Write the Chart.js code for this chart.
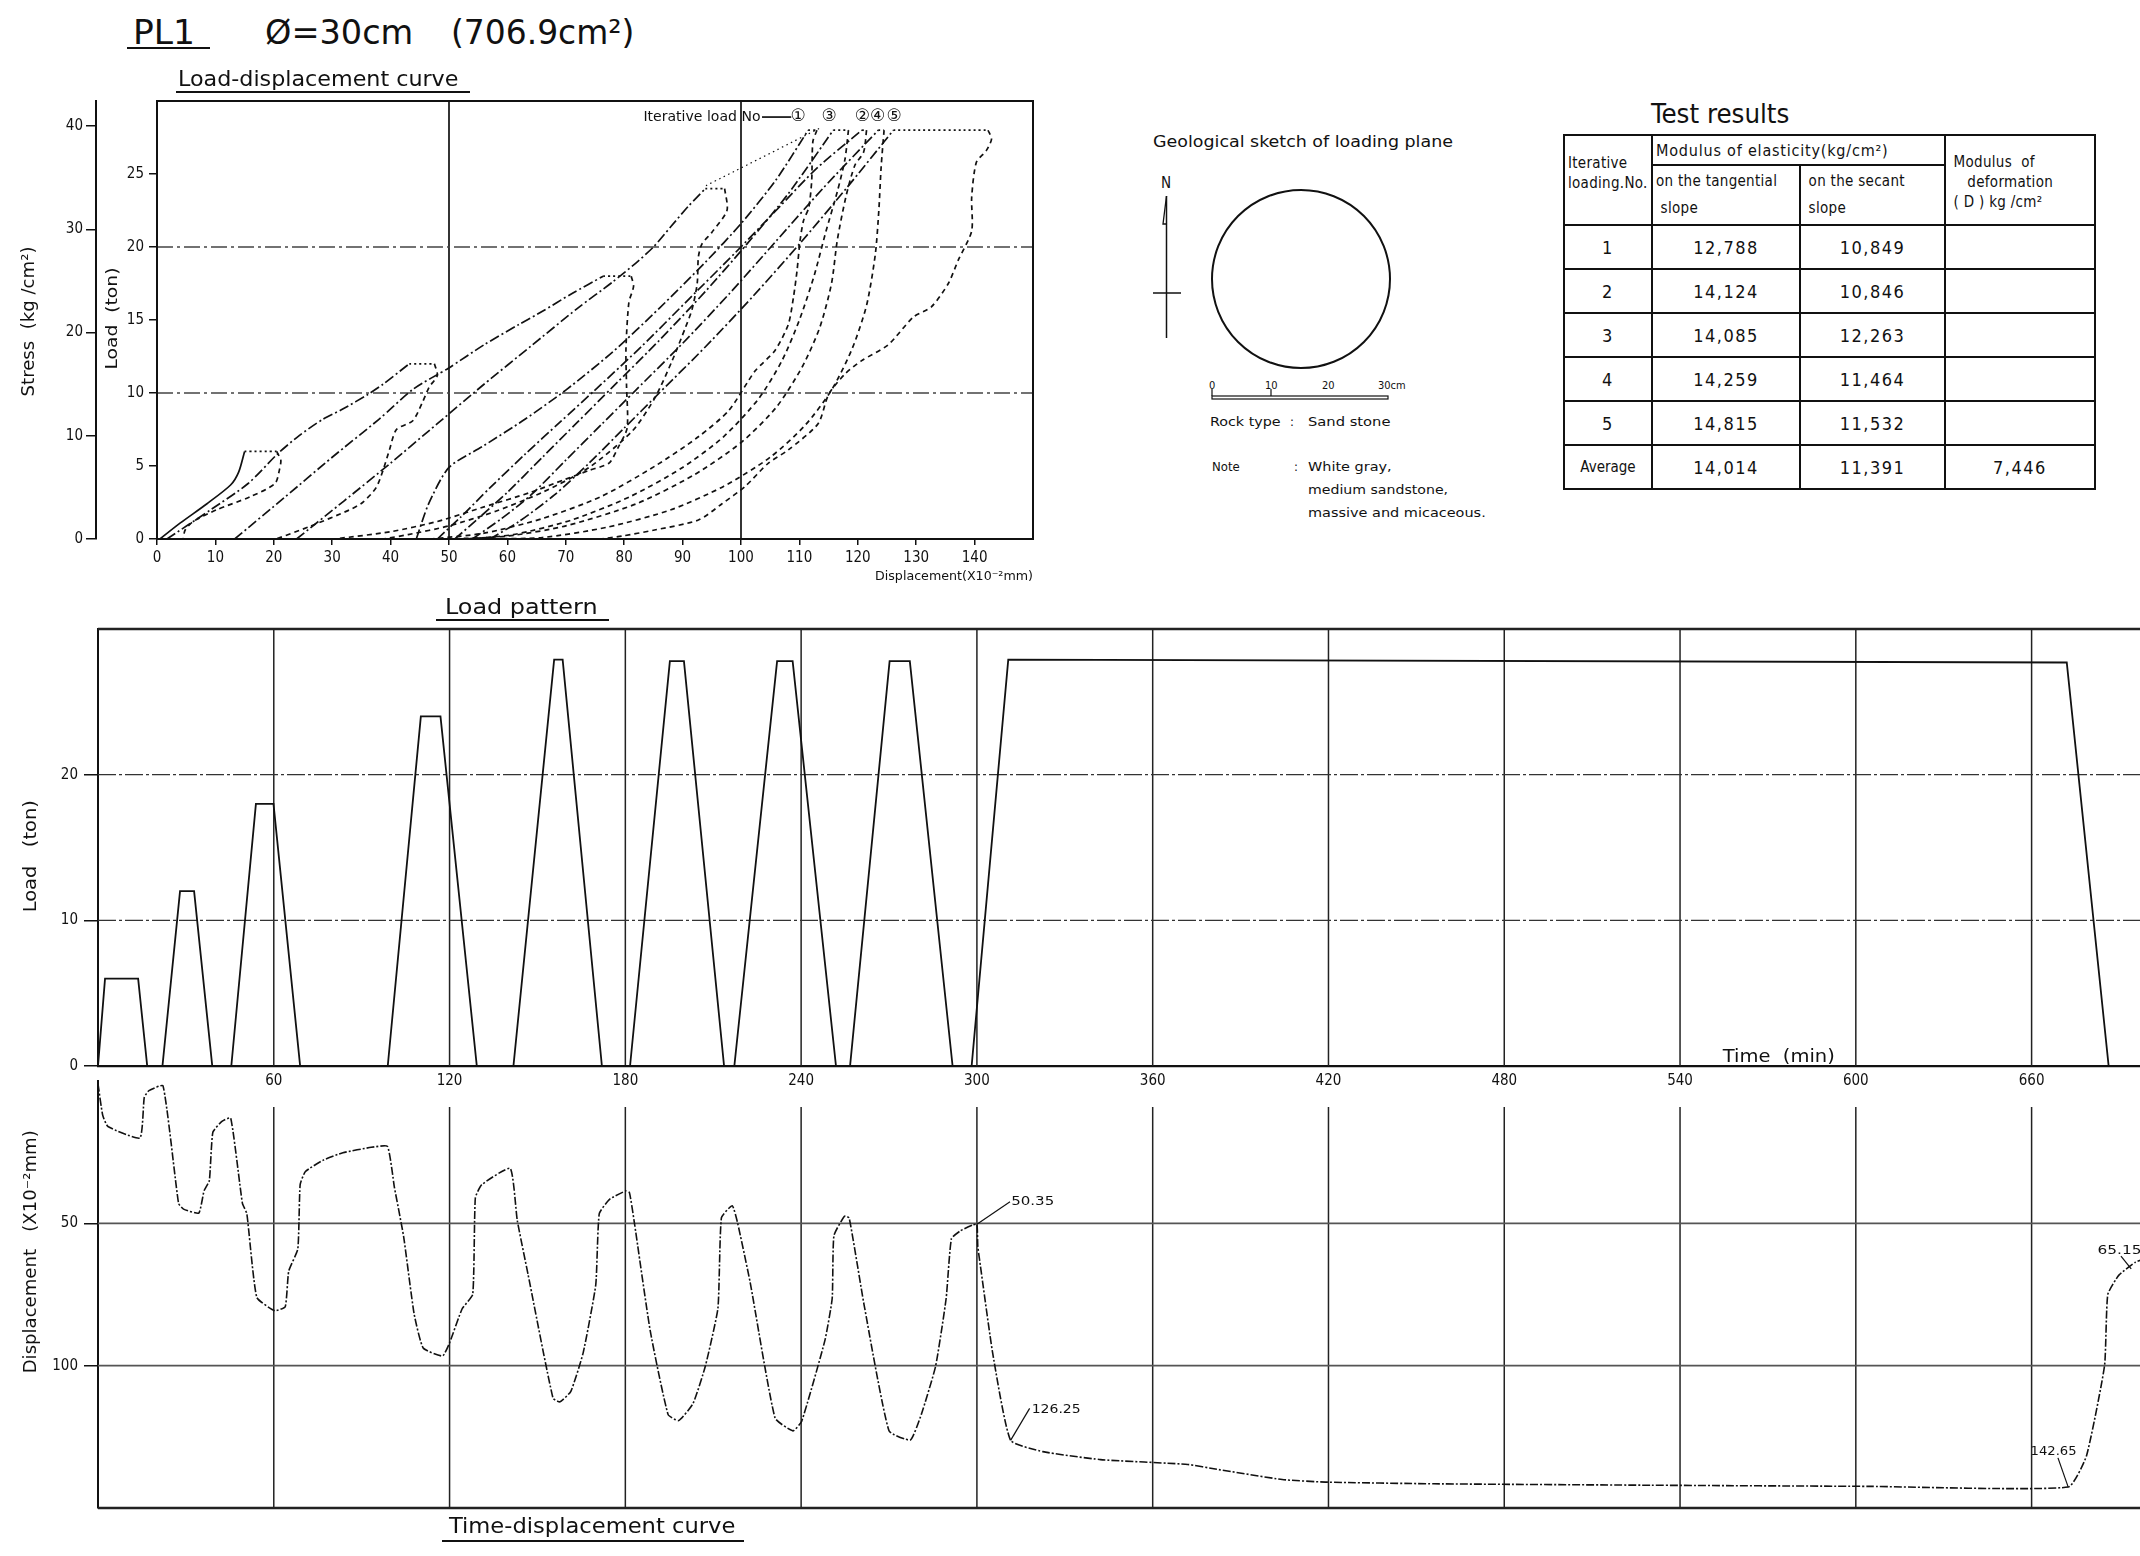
<!DOCTYPE html>
<html>
<head>
<meta charset="utf-8">
<script src="https://cdn.jsdelivr.net/npm/chart.js@4.4.1/dist/chart.umd.min.js"></script>
<style>
  body { margin: 0; width: 2140px; height: 1556px; overflow: hidden; background: #fff; position: relative;
         font-family: "Liberation Sans Narrow", "DejaVu Sans Condensed", "Liberation Sans", sans-serif; color: #111; }
  canvas { position: absolute; }
  .lbl { position: absolute; white-space: nowrap; line-height: 1; transform-origin: 0 50%; }
  #tbl { position: absolute; left: 1563px; top: 134px; border-collapse: collapse; table-layout: fixed; }
  #tbl td { border: 2px solid #111; padding: 0; font-size: 18px; letter-spacing: 1.5px; text-align: center; }
  #tbl td.h { font-size: 15px; letter-spacing: 0.3px; text-align: left; vertical-align: top; padding: 0 3px; }
</style>
</head>
<body>

<svg width="2140" height="1556" style="position:absolute;left:0;top:0">
  <g stroke="#111" fill="none" stroke-width="2">
    <line x1="127" y1="48" x2="210" y2="48"/>
    <line x1="176" y1="92" x2="470" y2="92"/>
    <line x1="436" y1="620" x2="609" y2="620"/>
    <line x1="442" y1="1541" x2="744" y2="1541"/>
    <circle cx="1301" cy="279" r="89"/>
    <line x1="1166.5" y1="196" x2="1166.5" y2="338" stroke-width="1.5"/>
    <polyline points="1166.5,196 1163,224 1166.5,224" stroke-width="1.3"/>
    <line x1="1153" y1="293" x2="1181" y2="293" stroke-width="1.5"/>
    <rect x="1212" y="396" width="176" height="3" stroke-width="1.2"/>
    <line x1="1212" y1="389" x2="1212" y2="396" stroke-width="1.2"/>
    <line x1="1271" y1="389" x2="1271" y2="396" stroke-width="1.2"/>
  </g>
</svg>

<canvas id="ld" width="1060" height="520" style="left:0;top:80px"></canvas>
<canvas id="lp" width="2140" height="500" style="left:0;top:600px"></canvas>
<canvas id="td" width="2140" height="480" style="left:0;top:1066px"></canvas>

<table id="tbl"></table>

<script>
// ---------------- data ----------------
const plateArea = 706.9; // cm2, d = 30 cm

// load-displacement curve (displacement x10^-2 mm, load ton)
const ldXTicks = [0, 10, 20, 30, 40, 50, 60, 70, 80, 90, 100, 110, 120, 130, 140];
const ldLoadTicks = [0, 5, 10, 15, 20, 25];
const stressTicks = [0, 10, 20, 30, 40];

const load1 = [[0.5,0],[4,1.1],[8.5,2.4],[12.6,3.7],[14,4.6],[15,6]];
const hold1 = [[15,6],[20.5,6]];
const unload1 = [[20.5,6],[21.2,5.4],[21,4.8],[20.2,3.8],[16,2.9],[10.2,2],[6.2,1.2],[4.8,0.6],[4.5,0]];

const load2 = [[1.7,0],[9,1.95],[15.6,3.8],[20.7,5.85],[24.4,7.1],[28.4,8.2],[31.8,8.9],[36.1,9.9],[38.7,10.6],[43.2,12]];
const hold2 = [[43.2,12],[47.5,12]];
const unload2 = [[47.5,12],[48,11.2],[46.6,10.4],[45.5,9.4],[43.8,8.1],[41,7.5],[39.8,6.1],[38.7,4.7],[37.5,3.5],[35.2,2.5],[33,2],[26.1,0.85],[20.4,0]];

const load3 = [[13.3,0],[22,2.9],[30,5.6],[38,8.2],[44,10.3],[49.9,11.7],[56,13.3],[62,14.7],[66,15.6],[71,16.8],[76.4,18]];
const hold3 = [[76.4,18],[81.2,18]];
const unload3 = [[81.2,18],[81.6,17.3],[80.8,16.2],[80.3,13],[80.4,10.5],[80.5,7.6],[79,6.3],[77.4,5.2],[74,4.7],[70,4.1],[64,3.2],[56,2.2],[48,1.2],[40,0.5],[30.4,0]];

const load4 = [[23.9,0],[32,2.6],[40,5.2],[48,7.9],[56,10.6],[64,13.2],[72,15.8],[78,17.6],[82,18.9],[85,20],[88,21.4],[91,22.8],[93.9,24]];
const hold4 = [[93.9,24],[97.2,24]];
const unload4 = [[97.2,24],[97.6,22.5],[95,21],[93.3,20.2],[92.7,19.3],[92.5,17.5],[91.6,15.7],[90.5,14.5],[88.2,12.2],[85.3,9.7],[81.4,7.4],[74,4.9],[66,3.2],[58,1.9],[50,0.9],[43,0.3],[38.7,0]];
const lead3 = [[94,24.2],[113.8,28.2]];

const load5 = [[44.4,0],[46.5,2.4],[50,4.9],[56,6.4],[63,8.2],[70,10.2],[78,12.8],[86,15.8],[94,19],[100,21.6],[106,24.6],[111.5,28]];
const hold5 = [[111.5,28],[113,28]];
const unload5 = [[113,28],[112.3,27.2],[112.1,24.5],[111.6,22.7],[110.7,21.8],[110.1,20.4],[109.6,18.4],[109,16.6],[108.1,14.7],[105.8,12.9],[102.4,11.5],[97.9,8.8],[92.7,7],[85.3,5],[76,2.9],[66,1.4],[56,0.4],[47,0]];

const load6 = [[48,0],[52,1.5],[57,3.5],[63,5.8],[69,8],[75,10.2],[83,13.2],[91,16.4],[99,19.6],[106,22.5],[113,25.4],[120.7,28]];
const hold6 = [[120.7,28],[121.5,28]];
const unload6 = [[121.5,28],[121,26.5],[119.5,25.6],[118,23.5],[116.5,20.5],[115.5,17.5],[113.5,14.5],[110.5,11.8],[106,9],[100,6.6],[92,4.4],[82,2.4],[70,0.9],[60,0.2],[50,0]];

const load7 = [[51,0],[55,1.4],[60,3.2],[66,5.6],[72,8],[78,10.4],[86,13.6],[94,17],[101,20.2],[108,23.6],[115.8,28]];
const hold7 = [[115.8,28],[118.4,28]];
const unload7 = [[118.4,28],[117.8,26],[116.5,23.8],[114.5,21],[112.5,18],[110,15],[107,12.2],[103,9.6],[97,7],[90,4.9],[81,2.9],[71,1.3],[61,0.3],[53,0]];

const load8 = [[54,0],[59,1.4],[64,3],[70,5.4],[76,7.8],[82,10.2],[90,13.4],[98,16.8],[106,20.4],[114,24],[123.5,28]];
const hold8 = [[123.5,28],[124.5,28]];
const unload8 = [[124.5,28],[124,25.5],[123.6,22.5],[123,19.5],[121.5,16],[119,13],[115.5,10.2],[111,7.8],[105,5.6],[97,3.6],[88,2],[77,0.8],[66,0.1],[56,0]];

const load9 = [[57,0],[62,1.2],[68,3],[74,5.2],[80,7.6],[86,10],[94,13.2],[102,16.6],[110,20.2],[118,24],[126.1,28]];
const hold9 = [[126.1,28],[142.3,28]];
const unload9 = [[142.3,28],[142.9,27.4],[142,26.6],[140.3,25.8],[139.5,23.4],[139.5,21.1],[137.2,19.1],[135.5,17.5],[132.6,15.9],[129.5,15.2],[125.2,13.3],[120.6,12.2],[117.8,11.3],[115,9.9],[113.2,7.9],[108.1,6.1],[104.7,5.2],[100.7,3.6],[96.7,2.4],[92.7,1.3],[85,0.6],[79.6,0.2],[76,0]];

const legendSample = [[103.6,28.9],[108.6,28.9]];
const iterNames = ['①', '③', '②', '④', '⑤'];
const iterNamePos = [109.8, 115.1, 120.8, 123.4, 126.2];

// load pattern (time min, load ton)
const timeTicks = [60, 120, 180, 240, 300, 360, 420, 480, 540, 600, 660];
const patternLoadTicks = [0, 10, 20];
const patternTime = [0,2.4,13.7,16.8,22,28,32.8,39,45.5,53.9,59.9,69,98.9,110.2,116.9,129.3,141.8,155.7,158.6,172,181.6,195.2,200,213.7,217.2,231.8,237.1,251.9,256.7,270.2,277.1,291.7,298.2,310.7,672,686.3,697];
const patternLoad = [0,6,6,0,0,12,12,0,0,18,18,0,0,24,24,0,0,27.9,27.9,0,0,27.8,27.8,0,0,27.8,27.8,0,0,27.8,27.8,0,0,27.9,27.7,0,0];

// time-displacement curve (time min, displacement x10^-2 mm)
const dispTicks = [50, 100];
const dispTime = [0,1.6,3.4,14.3,15.8,17.4,22.2,27.5,29.2,34.4,36.2,38,39.2,42.3,45.3,49.3,50.8,54.2,60.3,63.9,65.1,68.2,69,70.8,76.9,83.6,93.3,98.8,101.2,104.3,107.9,111,117.6,120,124.3,127.9,128.8,131,140.7,143.1,146.8,155.3,157.7,161.4,165.6,169.9,171.1,174.7,180.2,181.4,183,188.5,194.6,198.2,203.1,207.3,211.6,212.8,216.5,218.3,222.6,231.1,237.2,240.2,248.1,250.6,251.2,254.8,256.4,261.5,270,277.3,281,285.9,289.5,291.3,294.4,298.6,300,300.3,301.2,305.4,311.5,322.5,342.2,372,381.9,404.2,419,456,530,604.5,672.5,678.7,684.9,686,689.8,695.5,697];
const dispValue = [1,12,16,20,5.7,3.4,1.7,43,45,46.4,38.6,35,18,14.2,13,43,46.6,76,80.7,79.3,66.8,59,36.4,31.8,27.8,25.2,23.3,23,37.5,54.5,81.8,93.8,96.6,92,80,75,41,36.4,30.7,48.9,68,111.4,112.7,109,95.5,71.6,46.6,41.5,38.6,39.2,49.2,87.8,117.2,119.3,113.3,100.2,79.8,48,43.8,49.8,70.7,118.4,122.9,119.5,91.2,76.4,54.3,47.5,48.1,78.7,122.9,126.1,117.2,100.2,76.4,55.4,52.6,50.6,50.35,58,65,95.7,126.25,130.2,133,134.7,136.4,140,140.9,141.5,142,142.4,142.65,131.8,100,75,68.2,63.6,63];
const noteText = ['50.35', '126.25', '142.65', '65.15'];
const noteFrom = [[300,50.35],[311.5,126.25],[672.5,142.65],[690.5,61.5]];
const noteTo = [[311.3,42.4],[318,115],[669,132.4],[694,66]];

// test results
const loadingNo = ['1', '2', '3', '4', '5', 'Average'];
const tangentModulus = ['12,788', '14,124', '14,085', '14,259', '14,815', '14,014'];
const secantModulus = ['10,849', '10,846', '12,263', '11,464', '11,532', '11,391'];
const deformModulus = ['', '', '', '', '', '7,446'];

// ---------------- drawing ----------------
const NARROW = '"Liberation Sans Narrow", "DejaVu Sans Condensed", "Liberation Sans", sans-serif';
const WIDE = '"DejaVu Sans", "Liberation Sans", sans-serif';
Chart.defaults.color = '#111';
Chart.defaults.font.family = NARROW;
Chart.defaults.elements.point.radius = 0;

const pts = a => a.map(p => ({ x: p[0], y: p[1] }));
const DASH = { load: [10, 3, 2, 3], unload: [5, 4], hold: [2, 3], solid: [], lead: [1.5, 3.5] };

function drawText(ctx, t, x, y, rot) {
  ctx.save();
  ctx.font = t.size + 'px ' + (t.family || NARROW);
  ctx.fillStyle = '#111';
  ctx.textBaseline = t.base || 'middle';
  ctx.textAlign = 'left';
  const m = ctx.measureText(t.text).width;
  const k = t.w ? t.w / m : 1;
  ctx.translate(x, y);
  if (rot) ctx.rotate(-Math.PI / 2);
  let x0 = 0;
  if (t.align === 'right') x0 = -m * k;
  else if (t.align === 'center') x0 = -m * k / 2;
  ctx.translate(x0, 0);
  ctx.scale(k, 1);
  ctx.fillText(t.text, 0, 0);
  ctx.restore();
}

function makePaper(cfg) {
  return {
    id: 'paper',
    beforeDatasetsDraw(chart) {
      const ctx = chart.ctx, a = chart.chartArea;
      const xs = chart.scales.x, ys = chart.scales.y;
      const seg = (x1, y1, x2, y2, s) => {
        ctx.save();
        ctx.strokeStyle = s.color || '#111';
        ctx.lineWidth = s.width || 1.5;
        ctx.setLineDash(s.dash || []);
        ctx.beginPath(); ctx.moveTo(x1, y1); ctx.lineTo(x2, y2); ctx.stroke();
        ctx.restore();
      };
      (cfg.v || []).forEach(g => g.at.forEach(v => {
        const p = xs.getPixelForValue(v);
        seg(p, a.top + (g.skip || 0), p, a.bottom, g);
      }));
      (cfg.h || []).forEach(g => g.at.forEach(v => {
        const p = ys.getPixelForValue(v);
        seg(a.left, p, a.right, p, g);
      }));
      if (cfg.box) {
        ctx.save(); ctx.strokeStyle = '#111'; ctx.lineWidth = cfg.box;
        ctx.strokeRect(a.left, a.top, a.right - a.left, a.bottom - a.top);
        ctx.restore();
      }
    },
    afterDatasetsDraw(chart) {
      const xs = chart.scales.x, ys = chart.scales.y;
      (cfg.texts || []).forEach(t =>
        drawText(chart.ctx, t, xs.getPixelForValue(t.x) + (t.dx || 0), ys.getPixelForValue(t.y) + (t.dy || 0)));
      // rotated axis titles: px is a canvas x, y a value on the y scale
      (cfg.vtexts || []).forEach(t =>
        drawText(chart.ctx, Object.assign({ align: 'center', family: WIDE }, t), t.px, ys.getPixelForValue(t.y), true));
    }
  };
}

const fixTicks = list => s => { s.ticks = list.map(v => ({ value: v })); };

// --- load-displacement curve
const ldCurves = [
  [load1, 'solid'], [hold1, 'hold'], [unload1, 'unload'],
  [load2, 'load'], [hold2, 'hold'], [unload2, 'unload'],
  [load3, 'load'], [hold3, 'hold'], [unload3, 'unload'],
  [load4, 'load'], [hold4, 'hold'], [unload4, 'unload'], [lead3, 'lead'],
  [load5, 'load'], [hold5, 'hold'], [unload5, 'unload'],
  [load6, 'load'], [hold6, 'hold'], [unload6, 'unload'],
  [load7, 'load'], [hold7, 'hold'], [unload7, 'unload'],
  [load8, 'load'], [hold8, 'hold'], [unload8, 'unload'],
  [load9, 'load'], [hold9, 'hold'], [unload9, 'unload'],
  [legendSample, 'solid']
];

const ldTexts = [
  { text: 'Iterative load No', x: 83.3, y: 28.9, size: 14, w: 117 },
  { text: 'Displacement(X10⁻²mm)', x: 150, y: 0, dy: 38, size: 12, w: 158, align: 'right' }
];
iterNames.forEach((n, i) => ldTexts.push({ text: n, x: iterNamePos[i], y: 28.9, size: 17, align: 'center', family: WIDE }));

const tickFont = { size: 15 };

new Chart(document.getElementById('ld'), {
  type: 'line',
  data: {
    datasets: ldCurves.map(([c, kind]) => ({
      data: pts(c), borderColor: '#111', borderWidth: kind === 'lead' ? 1.2 : 1.7,
      borderDash: DASH[kind], tension: 0.25, fill: false, pointRadius: 0
    }))
  },
  options: {
    responsive: false, animation: false,
    layout: { padding: { left: 20, top: 21, right: 27, bottom: 0 } },
    plugins: { legend: { display: false }, tooltip: { enabled: false } },
    scales: {
      x: {
        type: 'linear', min: 0, max: 150, afterBuildTicks: fixTicks(ldXTicks),
        ticks: { font: tickFont, padding: 4, maxRotation: 0, autoSkip: false },
        grid: { drawOnChartArea: false, tickLength: 6, color: '#111', lineWidth: 1.5 },
        border: { color: '#111', width: 2 },
        afterFit: s => { s.height = 61; }
      },
      y: {
        type: 'linear', position: 'left', min: 0, max: 30, weight: 0, afterBuildTicks: fixTicks(ldLoadTicks),
        ticks: { font: tickFont, padding: 5 },
        grid: { drawOnChartArea: false, tickLength: 8, color: '#111', lineWidth: 1.5 },
        border: { color: '#111', width: 2 },
        afterFit: s => { s.width = 61; }
      },
      stress: {
        type: 'linear', position: 'left', min: 0, max: 30 * 1000 / plateArea, weight: 1,
        afterBuildTicks: fixTicks(stressTicks),
        ticks: { font: tickFont, padding: 3 },
        grid: { drawOnChartArea: false, tickLength: 10, color: '#111', lineWidth: 1.5 },
        border: { color: '#111', width: 2 },
        afterFit: s => { s.width = 76; }
      }
    }
  },
  plugins: [makePaper({
    box: 2,
    v: [{ at: [50, 100], width: 1.7, color: '#111' }],
    h: [{ at: [10, 20], width: 1.3, color: '#444', dash: [16, 4, 3, 4] }],
    texts: ldTexts,
    vtexts: [
      { text: 'Stress  (kg /cm²)', px: 30, y: 14.9, size: 17, w: 150 },
      { text: 'Load  (ton)', px: 113, y: 15.1, size: 16, w: 102 }
    ]
  })]
});

// --- load pattern
new Chart(document.getElementById('lp'), {
  type: 'line',
  data: {
    datasets: [{
      data: patternTime.map((t, i) => ({ x: t, y: patternLoad[i] })),
      borderColor: '#111', borderWidth: 1.8, tension: 0, pointRadius: 0
    }]
  },
  options: {
    responsive: false, animation: false,
    layout: { padding: { left: 22, top: 29, right: 0, bottom: 0 } },
    plugins: { legend: { display: false }, tooltip: { enabled: false } },
    scales: {
      x: {
        type: 'linear', min: 0, max: 697, afterBuildTicks: fixTicks(timeTicks),
        ticks: { font: tickFont, padding: 6, maxRotation: 0, autoSkip: false },
        grid: { display: false, drawTicks: false },
        border: { color: '#111', width: 2.2 },
        afterFit: s => { s.height = 34; }
      },
      y: {
        type: 'linear', min: 0, max: 30, afterBuildTicks: fixTicks(patternLoadTicks),
        ticks: { font: tickFont, padding: 6 },
        grid: { drawOnChartArea: false, tickLength: 14, color: '#111', lineWidth: 1.5 },
        border: { color: '#111', width: 2 },
        afterFit: s => { s.width = 76; }
      }
    }
  },
  plugins: [makePaper({
    v: [{ at: timeTicks, width: 1.5, color: '#222' }],
    h: [{ at: [10, 20], width: 1.4, color: '#333', dash: [18, 3, 3, 3] }, { at: [30], width: 2.4, color: '#222' }],
    texts: [{ text: 'Time  (min)', x: 554.6, y: 0, dy: -4, base: 'alphabetic', size: 17, w: 112 }],
    vtexts: [{ text: 'Load   (ton)', px: 32, y: 14.4, size: 17, w: 112 }]
  })]
});

// --- time-displacement curve
const tdDatasets = [{
  data: dispTime.map((t, i) => ({ x: t, y: dispValue[i] })),
  borderColor: '#111', borderWidth: 1.6, borderDash: [8, 2, 2, 2], tension: 0.15, pointRadius: 0
}];
noteFrom.forEach((p, i) => tdDatasets.push({
  data: pts([p, noteTo[i]]), borderColor: '#111', borderWidth: 1.2, tension: 0, pointRadius: 0
}));
const tdTexts = [
  { text: noteText[0], x: 311.7, y: 42.4, size: 13, w: 43 },
  { text: noteText[1], x: 318.7, y: 115.5, size: 13, w: 49 },
  { text: noteText[2], x: 667.5, y: 130.1, size: 13, w: 46, align: 'center' },
  { text: noteText[3], x: 682.5, y: 59.7, size: 13, w: 44 }
];

new Chart(document.getElementById('td'), {
  type: 'line',
  data: { datasets: tdDatasets },
  options: {
    responsive: false, animation: false,
    layout: { padding: { left: 22, top: 0, right: 0, bottom: 38 } },
    plugins: { legend: { display: false }, tooltip: { enabled: false } },
    scales: {
      x: { type: 'linear', min: 0, max: 697, display: false },
      y: {
        type: 'linear', min: 0, max: 150, reverse: true, afterBuildTicks: fixTicks(dispTicks),
        ticks: { font: tickFont, padding: 6 },
        grid: { drawOnChartArea: false, tickLength: 14, color: '#111', lineWidth: 1.5 },
        border: { color: '#111', width: 2 },
        afterFit: s => { s.width = 76; }
      }
    }
  },
  plugins: [makePaper({
    v: [{ at: timeTicks, width: 1.5, color: '#222', skip: 26 }],
    h: [{ at: dispTicks, width: 1.8, color: '#555' }, { at: [150], width: 2.4, color: '#222' }],
    texts: tdTexts,
    vtexts: [{ text: 'Displacement   (X10⁻²mm)', px: 32, y: 60, size: 17, w: 243 }]
  })]
});

// ---------------- table ----------------
const tbl = document.getElementById('tbl');
let html = '<colgroup><col style="width:88px"><col style="width:148px"><col style="width:145px"><col style="width:150px"></colgroup>';
html += '<tr style="height:30px"><td class="h" rowspan="2" style="padding-top:17px;line-height:20px">Iterative<br>loading.No.</td>' +
        '<td class="h" colspan="2" style="vertical-align:middle;font-size:16px;letter-spacing:0.8px">Modulus of elasticity(kg/cm²)</td>' +
        '<td class="h" rowspan="2" style="padding-top:16px;line-height:20px">&nbsp;Modulus &nbsp;of<br>&nbsp;&nbsp;&nbsp;&nbsp;deformation<br>&nbsp;( D ) kg /cm²</td></tr>';
html += '<tr style="height:60px"><td class="h" style="padding-top:2px;line-height:27px">on the tangential<br>&nbsp;slope</td>' +
        '<td class="h" style="padding-top:2px;line-height:27px">&nbsp;on the secant<br>&nbsp;slope</td></tr>';
loadingNo.forEach((n, i) => {
  html += '<tr style="height:44px"><td' + (i === 5 ? ' style="font-size:15px;letter-spacing:0"' : '') + '>' + n + '</td><td>' + tangentModulus[i] +
          '</td><td>' + secantModulus[i] + '</td><td>' + deformModulus[i] + '</td></tr>';
});
tbl.innerHTML = html;

// ---------------- free text ----------------
const labels = [
  ['PL1', 133, 34, 34, 62], ['Ø=30cm', 265, 34, 34, 148], ['(706.9cm²)', 451, 34, 34, 183],
  ['Load-displacement curve', 178, 81, 21, 280],
  ['Load pattern', 445, 609, 21, 153],
  ['Time-displacement curve', 449, 1528, 21, 286],
  ['Test results', 1651, 115, 26, 138],
  ['Geological sketch of loading plane', 1153, 143, 15, 300],
  ['N', 1161, 184, 15, 0],
  ['0', 1209, 386, 11, 0], ['10', 1265, 386, 11, 0], ['20', 1322, 386, 11, 0], ['30cm', 1378, 386, 11, 0],
  ['Rock type', 1210, 422, 13, 71], [':', 1290, 422, 13, 0], ['Sand stone', 1308, 422, 13, 83],
  ['Note', 1212, 467, 13, 28], [':', 1294, 467, 13, 0], ['White gray,', 1308, 467, 13, 84],
  ['medium sandstone,', 1308, 490, 13, 140], ['massive and micaceous.', 1308, 513, 13, 178]
];
labels.forEach(([t, x, y, size, w]) => {
  const d = document.createElement('div');
  d.className = 'lbl';
  d.textContent = t;
  d.style.left = x + 'px';
  d.style.top = (y - size * 0.55) + 'px';
  d.style.fontSize = size + 'px';
  document.body.appendChild(d);
  if (w) d.style.transform = 'scaleX(' + (w / d.offsetWidth) + ')';
});
</script>
</body>
</html>
